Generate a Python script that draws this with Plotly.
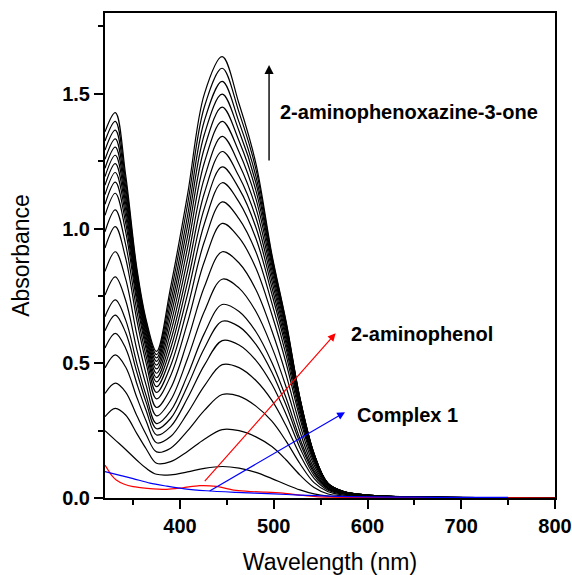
import plotly.graph_objects as go

# ---------------- data ----------------
WAVELENGTH = [320, 331, 342, 354, 364, 375, 390, 408, 426, 445, 463, 481, 498, 513, 528, 543, 558, 575, 600, 650, 800]

scan_00 = [0.250, 0.215, 0.180, 0.140, 0.110, 0.088, 0.086, 0.097, 0.110, 0.117, 0.111, 0.095, 0.072, 0.050, 0.030, 0.015, 0.007, 0.004, 0.002, 0.001, 0.0]
scan_01 = [0.302, 0.333, 0.308, 0.239, 0.182, 0.129, 0.135, 0.173, 0.218, 0.254, 0.250, 0.227, 0.191, 0.142, 0.085, 0.039, 0.015, 0.008, 0.004, 0.001, 0.0]
scan_02 = [0.388, 0.426, 0.393, 0.305, 0.235, 0.171, 0.185, 0.249, 0.325, 0.384, 0.378, 0.341, 0.285, 0.212, 0.127, 0.057, 0.023, 0.011, 0.006, 0.002, 0.0]
scan_03 = [0.483, 0.531, 0.486, 0.373, 0.285, 0.205, 0.228, 0.315, 0.416, 0.495, 0.484, 0.436, 0.362, 0.269, 0.160, 0.073, 0.029, 0.014, 0.007, 0.0025, 0.0]
scan_04 = [0.557, 0.611, 0.556, 0.424, 0.324, 0.234, 0.265, 0.370, 0.493, 0.584, 0.568, 0.511, 0.422, 0.312, 0.186, 0.084, 0.033, 0.016, 0.008, 0.003, 0.0]
scan_05 = [0.621, 0.679, 0.614, 0.466, 0.354, 0.257, 0.295, 0.416, 0.556, 0.656, 0.636, 0.570, 0.467, 0.346, 0.205, 0.093, 0.036, 0.017, 0.009, 0.003, 0.0]
scan_06 = [0.673, 0.735, 0.661, 0.499, 0.379, 0.276, 0.323, 0.456, 0.611, 0.718, 0.692, 0.617, 0.503, 0.373, 0.220, 0.100, 0.038, 0.018, 0.009, 0.003, 0.0]
scan_07 = [0.753, 0.821, 0.734, 0.550, 0.417, 0.305, 0.363, 0.517, 0.693, 0.812, 0.779, 0.692, 0.560, 0.414, 0.245, 0.110, 0.042, 0.020, 0.010, 0.003, 0.0]
scan_08 = [0.841, 0.914, 0.813, 0.605, 0.458, 0.336, 0.407, 0.583, 0.784, 0.914, 0.872, 0.773, 0.621, 0.459, 0.270, 0.122, 0.045, 0.021, 0.010, 0.004, 0.0]
scan_09 = [0.928, 1.007, 0.890, 0.659, 0.499, 0.368, 0.454, 0.651, 0.878, 1.019, 0.966, 0.853, 0.681, 0.503, 0.295, 0.133, 0.049, 0.023, 0.011, 0.004, 0.0]
scan_10 = [0.988, 1.069, 0.941, 0.693, 0.525, 0.392, 0.491, 0.706, 0.952, 1.099, 1.036, 0.913, 0.723, 0.533, 0.311, 0.140, 0.051, 0.023, 0.011, 0.004, 0.0]
scan_11 = [1.049, 1.131, 0.989, 0.726, 0.550, 0.413, 0.525, 0.756, 1.018, 1.170, 1.098, 0.963, 0.757, 0.557, 0.325, 0.147, 0.052, 0.024, 0.011, 0.004, 0.0]
scan_12 = [1.090, 1.172, 1.021, 0.746, 0.567, 0.431, 0.555, 0.800, 1.076, 1.229, 1.148, 1.004, 0.782, 0.575, 0.334, 0.150, 0.053, 0.024, 0.011, 0.004, 0.0]
scan_13 = [1.126, 1.208, 1.047, 0.763, 0.581, 0.447, 0.584, 0.842, 1.132, 1.286, 1.193, 1.040, 0.805, 0.591, 0.343, 0.153, 0.053, 0.023, 0.011, 0.004, 0.0]
scan_14 = [1.161, 1.241, 1.071, 0.778, 0.596, 0.463, 0.614, 0.885, 1.188, 1.342, 1.239, 1.076, 0.826, 0.605, 0.349, 0.157, 0.053, 0.023, 0.011, 0.004, 0.0]
scan_15 = [1.193, 1.272, 1.093, 0.793, 0.608, 0.479, 0.644, 0.928, 1.245, 1.398, 1.284, 1.110, 0.845, 0.619, 0.356, 0.159, 0.054, 0.023, 0.011, 0.004, 0.0]
scan_16 = [1.224, 1.302, 1.114, 0.805, 0.621, 0.493, 0.673, 0.969, 1.299, 1.451, 1.325, 1.141, 0.862, 0.631, 0.361, 0.162, 0.053, 0.022, 0.010, 0.004, 0.0]
scan_17 = [1.257, 1.333, 1.135, 0.818, 0.631, 0.507, 0.700, 1.009, 1.350, 1.499, 1.362, 1.169, 0.875, 0.639, 0.365, 0.163, 0.053, 0.021, 0.010, 0.004, 0.0]
scan_18 = [1.291, 1.365, 1.156, 0.829, 0.641, 0.520, 0.727, 1.047, 1.400, 1.546, 1.395, 1.193, 0.886, 0.646, 0.367, 0.163, 0.051, 0.020, 0.009, 0.004, 0.0]
scan_19 = [1.325, 1.398, 1.178, 0.841, 0.652, 0.532, 0.756, 1.088, 1.452, 1.595, 1.431, 1.220, 0.897, 0.653, 0.370, 0.165, 0.051, 0.019, 0.009, 0.0035, 0.0]
scan_20 = [1.359, 1.430, 1.199, 0.852, 0.660, 0.544, 0.783, 1.125, 1.500, 1.638, 1.463, 1.241, 0.904, 0.658, 0.370, 0.164, 0.049, 0.018, 0.008, 0.003, 0.0]

SCANS = [scan_00, scan_01, scan_02, scan_03, scan_04, scan_05, scan_06, scan_07,
         scan_08, scan_09, scan_10, scan_11, scan_12, scan_13, scan_14, scan_15,
         scan_16, scan_17, scan_18, scan_19, scan_20]

aminophenol_wl = [320, 324, 328, 332, 340, 350, 365, 386, 403, 421, 439, 450, 460, 475, 492, 510, 528, 545, 560, 600, 700, 800]
aminophenol_abs = [0.122, 0.100, 0.080, 0.067, 0.052, 0.042, 0.036, 0.032, 0.038, 0.046, 0.043, 0.035, 0.028, 0.024, 0.022, 0.018, 0.011, 0.005, 0.003, 0.002, 0.001, 0.0]

complex_wl = [320, 335, 350, 368, 386, 405, 428, 460, 500, 528, 560, 600, 650, 700, 750]
complex_abs = [0.098, 0.085, 0.072, 0.055, 0.044, 0.034, 0.027, 0.021, 0.015, 0.011, 0.007, 0.004, 0.003, 0.002, 0.002]

X_TICKS = [400, 500, 600, 700, 800]
Y_TICKS = [0.0, 0.5, 1.0, 1.5]

LABEL_PRODUCT = "2-aminophenoxazine-3-one"
LABEL_SUBSTRATE = "2-aminophenol"
LABEL_COMPLEX = "Complex 1"

# ---------------- figure ----------------
FONT = "Liberation Sans, Arial, sans-serif"
fig = go.Figure()

for s in SCANS:
    fig.add_trace(go.Scatter(x=WAVELENGTH, y=s, mode="lines",
                             line=dict(color="black", width=1.2, shape="spline", smoothing=1.0),
                             showlegend=False, hoverinfo="skip"))

fig.add_trace(go.Scatter(x=aminophenol_wl, y=aminophenol_abs, mode="lines",
                         line=dict(color="#ff0000", width=1.2, shape="spline", smoothing=0.8),
                         showlegend=False, hoverinfo="skip"))
fig.add_trace(go.Scatter(x=complex_wl, y=complex_abs, mode="lines",
                         line=dict(color="#0000ff", width=1.2, shape="spline", smoothing=0.8),
                         showlegend=False, hoverinfo="skip"))

ann_font = dict(family=FONT, size=20, color="black", weight="bold")
annotations = [
    dict(x=495, y=1.607, ax=495, ay=1.247, xref="x", yref="y", axref="x", ayref="y",
         showarrow=True, arrowhead=2, arrowsize=1.3, arrowwidth=1.4, arrowcolor="black", text=""),
    dict(x=504, y=1.433, xref="x", yref="y", text=LABEL_PRODUCT, showarrow=False,
         xanchor="left", yanchor="middle", font=ann_font),
    dict(x=566, y=0.611, ax=425, ay=0.057, xref="x", yref="y", axref="x", ayref="y",
         showarrow=True, arrowhead=2, arrowsize=1.3, arrowwidth=1.2, arrowcolor="#ff0000", text=""),
    dict(x=580, y=0.609, xref="x", yref="y", text=LABEL_SUBSTRATE, showarrow=False,
         xanchor="left", yanchor="middle", font=ann_font),
    dict(x=576, y=0.318, ax=430, ay=0.023, xref="x", yref="y", axref="x", ayref="y",
         showarrow=True, arrowhead=2, arrowsize=1.3, arrowwidth=1.2, arrowcolor="#0000ff", text=""),
    dict(x=587, y=0.308, xref="x", yref="y", text=LABEL_COMPLEX, showarrow=False,
         xanchor="left", yanchor="middle", font=ann_font),
]

tick_font = dict(family=FONT, size=20, color="black", weight="bold")
fig.update_layout(
    width=572, height=575,
    margin=dict(l=105, r=17, t=13, b=77, autoexpand=False),
    paper_bgcolor="white", plot_bgcolor="white",
    annotations=annotations,
    xaxis=dict(range=[320, 800], tickvals=X_TICKS, ticks="outside", ticklen=9, tickwidth=2,
               tickcolor="black", showline=True, linewidth=2, linecolor="black", mirror=True,
               showgrid=False, zeroline=False, tickfont=tick_font, automargin=False,
               minor=dict(tickvals=[350, 450, 550, 650, 750], ticks="outside", ticklen=5,
                          tickwidth=2, tickcolor="black", showgrid=False),
               title=dict(text="Wavelength (nm)", font=dict(family=FONT, size=23, color="black"),
                          standoff=18)),
    yaxis=dict(range=[0, 1.8], tickvals=Y_TICKS, tickformat=".1f", ticks="outside", ticklen=9,
               tickwidth=2, tickcolor="black", showline=True, linewidth=2, linecolor="black",
               mirror=True, showgrid=False, zeroline=False, tickfont=tick_font, automargin=False,
               minor=dict(tickvals=[0.25, 0.75, 1.25, 1.75], ticks="outside", ticklen=5,
                          tickwidth=2, tickcolor="black", showgrid=False),
               title=dict(text="Absorbance", font=dict(family=FONT, size=23, color="black"),
                          standoff=26)),
)

fig.write_html("out.html")
